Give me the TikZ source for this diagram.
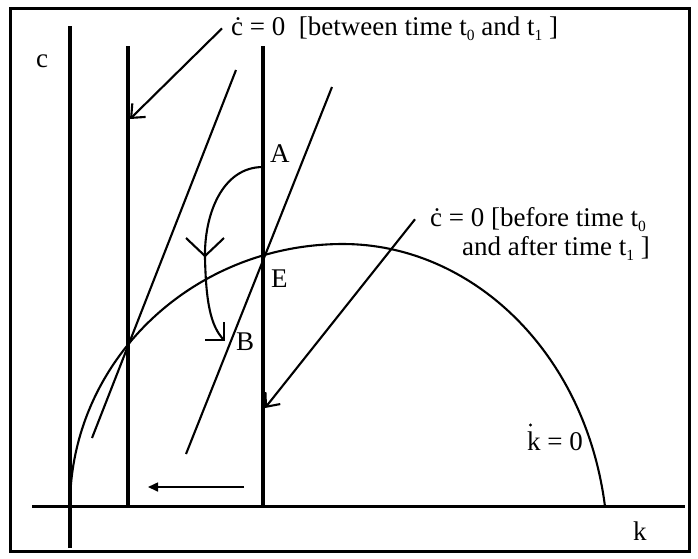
\documentclass[tikz,border=0pt]{standalone}
\usepackage{fontspec}
\setmainfont{Liberation Serif}
\usetikzlibrary{arrows.meta}
\newcommand\sbs[1]{\raisebox{-0.2em}{\fontsize{15.5}{15.5}\selectfont #1}}
\begin{document}
\begin{tikzpicture}[x=1pt,y=-1pt,
  lbl/.style={font=\fontsize{27}{31}\selectfont, inner sep=0pt},
  heavy/.style={line width=3.2pt},
  curveline/.style={line width=2.1pt},
  ptr/.style={line width=2.1pt, -{Straight Barb[length=11pt,width=19pt,line width=2.1pt]}},
  move/.style={line width=1.6pt, -{Triangle[length=10pt,width=9pt]}}]
\useasboundingbox (0,0) rectangle (698,558);
% frame
\draw[line width=3pt] (10,8) rectangle (689,551);
% axes
\coordinate (yb) at (70,548); \coordinate (yt) at (70,26);
\coordinate (xl) at (32,506.5); \coordinate (xr) at (685,506.5);
\draw[heavy] (yb) -- (yt);
\draw[heavy] (xl) -- (xr);
% c-dot = 0 loci
\coordinate (v2t) at (128,46); \coordinate (v2b) at (128,506.5);
\coordinate (v3t) at (263,46); \coordinate (v3b) at (263,506.5);
\draw[heavy] (v2t) -- (v2b);
\draw[heavy] (v3t) -- (v3b);
% saddle paths
\coordinate (s1b) at (92,438); \coordinate (s1t) at (236,70);
\coordinate (s2b) at (186,454); \coordinate (s2t) at (332,87);
\draw[curveline] (s1b) -- (s1t);
\draw[curveline] (s2b) -- (s2t);
% k-dot = 0 locus
\coordinate (k0) at (70,506.5);
\coordinate (kpk) at (343,244);
\coordinate (kmax) at (605,506.5);
\draw[curveline] (k0) .. controls (70,361.5) and (192,244) .. (kpk)
  .. controls (470,244) and (585,350) .. (kmax);
% adjustment path A -> B
\coordinate (Apt) at (263,167);
\coordinate (Bpt) at (224,340);
\draw[curveline] (Apt) .. controls (222,167) and (204,215) .. (205,258) .. controls (206,300) and (210,326) .. (Bpt);
\draw[curveline, line join=miter] (205,340) -- (Bpt) -- (224,322);
\draw[curveline, line join=miter] (186,238) -- (205,256) -- (224,238);
% labels
\node[lbl, anchor=base west] (clab) at (36,67) {c};
\node[lbl, anchor=base west] (klab) at (633,540) {k};
\node[lbl, anchor=base west] (Alab) at (270,162) {A};
\node[lbl, anchor=base west] (Elab) at (271,287) {E};
\node[lbl, anchor=base west] (Blab) at (236,350) {B};
\node[lbl, anchor=base west] (kdlab) at (527,450) {k = 0};
\fill (530.5,425) circle (1.7pt);
\node[lbl, anchor=base west] (toplbl) at (231,35) {ċ = 0\ \ [between time t\sbs{0} and t\sbs{1} ]};
\node[lbl, anchor=base west] (bl1) at (430,226) {ċ = 0 [before time t\sbs{0}};
\node[lbl, anchor=base west] (bl2) at (462,255) {and after time t\sbs{1} ]};
% pointers
\coordinate (tip2) at (130,119);
\coordinate (tip3) at (265,408);
\draw[ptr] ([xshift=-9pt]toplbl.west) -- (tip2);
\draw[ptr] ([xshift=-15pt]bl1.west) -- (tip3);
% shift of the locus
\coordinate (mvs) at (244,487); \coordinate (mve) at (148,487);
\draw[move] (mvs) -- (mve);
\end{tikzpicture}
\end{document}
